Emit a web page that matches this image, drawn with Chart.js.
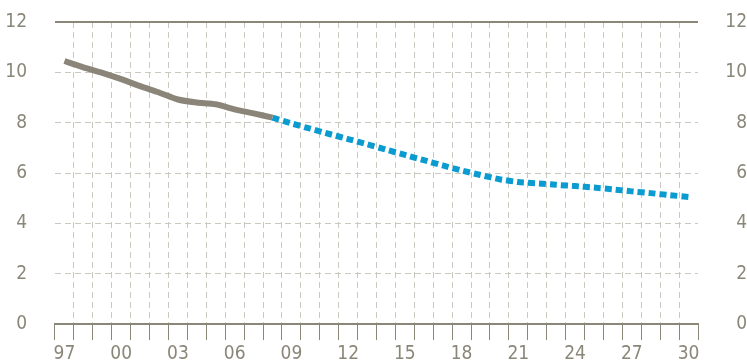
<!DOCTYPE html>
<html>
<head>
<meta charset="utf-8">
<script src="https://cdn.jsdelivr.net/npm/chart.js@4.4.1/dist/chart.umd.min.js"></script>
<style>
  html, body { margin: 0; padding: 0; background: #fff; }
  #wrap { width: 747px; height: 360px; position: relative; }
</style>
</head>
<body>
<div id="wrap"><canvas id="chartCanvas"></canvas></div>
<script>
"use strict";

const years = [
  "97", "98", "99", "00", "01", "02", "03", "04", "05", "06", "07", "08",
  "09", "10", "11", "12", "13", "14", "15", "16", "17", "18", "19", "20",
  "21", "22", "23", "24", "25", "26", "27", "28", "29", "30",
];

// actual values 1997-2008
const actual = [
  10.45, 10.2, 9.98, 9.73, 9.45, 9.2, 8.92, 8.8, 8.73, 8.53, 8.37, 8.2,
  null, null, null, null, null, null, null, null, null, null, null, null,
  null, null, null, null, null, null, null, null, null, null,
];

// projection 2008-2030
const projection = [
  null, null, null, null, null, null, null, null, null, null, null, 8.2,
  7.97, 7.76, 7.55, 7.35, 7.14, 6.93, 6.72, 6.51, 6.3, 6.1, 5.92, 5.75,
  5.64, 5.59, 5.53, 5.48, 5.42, 5.35, 5.27, 5.2, 5.12, 5.05,
];

const yTicks = [0, 2, 4, 6, 8, 10, 12];

const textColor = "#8a8778";
const gridColor = "#cbc8bf";
const fontSpec = { family: "'Liberation Sans Narrow', 'DejaVu Sans Condensed', sans-serif", size: 19 };

const ctx = document.getElementById("chartCanvas").getContext("2d");

new Chart(ctx, {
  type: "line",
  data: {
    labels: years,
    datasets: [
      {
        data: actual,
        borderColor: "#8a8578",
        borderWidth: 6,
        borderCapStyle: "butt",
        pointRadius: 0,
        tension: 0.25,
      },
      {
        data: projection,
        borderColor: "#0a9bd1",
        borderWidth: 6,
        borderDash: [7, 4],
        borderCapStyle: "butt",
        pointRadius: 0,
        tension: 0.15,
      },
    ],
  },
  options: {
    responsive: true,
    maintainAspectRatio: false,
    animation: false,
    layout: { padding: { top: 22, left: 0, right: 0, bottom: 0 } },
    plugins: { legend: { display: false }, tooltip: { enabled: false } },
    scales: {
      x: {
        type: "category",
        offset: true,
        grid: {
          offset: true,
          color: (c) => (c.index === undefined || c.index === 0 ? "transparent" : gridColor),
          tickColor: textColor,
          tickLength: 16,
          tickBorderDash: [],
          lineWidth: 1,
        },
        border: { display: true, color: textColor, width: 2, dash: [6, 4] },
        ticks: {
          autoSkip: false,
          maxRotation: 0,
          color: textColor,
          font: fontSpec,
          padding: 3,
          callback: function (value, index) {
            return index % 3 === 0 ? this.getLabelForValue(value) : "";
          },
        },
        afterFit: (s) => { s.height = 36; },
      },
      y: {
        position: "left",
        min: 0,
        max: 12,
        afterBuildTicks: (s) => { s.ticks = yTicks.map((v) => ({ value: v })); },
        grid: {
          drawTicks: true,
          tickLength: 28,
          tickColor: "transparent",
          color: (c) => {
            if (c.tick && c.tick.value === 0) return "transparent";
            if (c.tick && c.tick.value === 12) return textColor;
            return gridColor;
          },
          lineWidth: (c) => (c.tick && c.tick.value === 12 ? 2 : 1),
        },
        border: {
          display: false,
          dash: (c) => (c.tick && c.tick.value === 12 ? [] : [6, 4]),
        },
        ticks: { color: textColor, font: fontSpec, padding: 0 },
        afterFit: (s) => { s.width = 55; },
      },
      y1: {
        position: "right",
        min: 0,
        max: 12,
        afterBuildTicks: (s) => { s.ticks = yTicks.map((v) => ({ value: v })); },
        grid: {
          drawOnChartArea: false,
          drawTicks: true,
          tickLength: 23,
          tickColor: "transparent",
          color: "transparent",
        },
        border: { display: false },
        ticks: { color: textColor, font: fontSpec, padding: 0, crossAlign: "far" },
        afterFit: (s) => { s.width = 49; },
      },
    },
  },
});
</script>
</body>
</html>
